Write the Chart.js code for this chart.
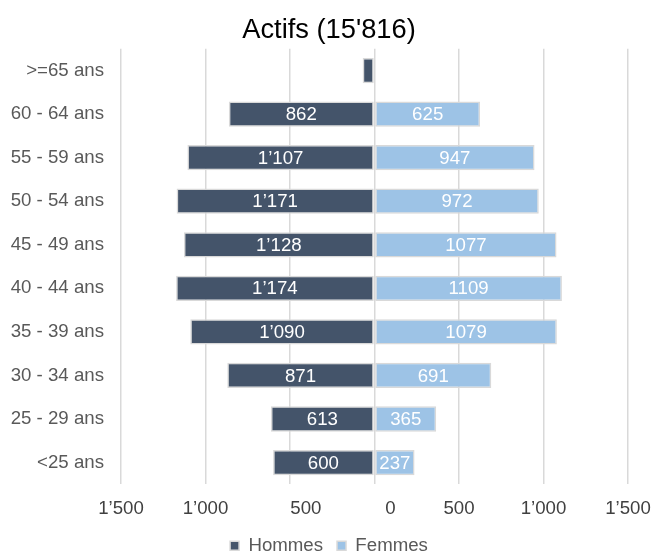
<!DOCTYPE html>
<html><head><meta charset="utf-8">
<script src="https://cdn.jsdelivr.net/npm/chart.js@4"></script>
<style>html,body{margin:0;padding:0;background:#fff}#wrap{width:658px;height:555px}</style>
</head><body><div id="wrap"><canvas id="c" width="658" height="555"></canvas></div>
<script>
const categories = [">=65 ans","60 - 64 ans","55 - 59 ans","50 - 54 ans","45 - 49 ans","40 - 44 ans","35 - 39 ans","30 - 34 ans","25 - 29 ans","<25 ans"];
const hommes = [70, 862, 1107, 1171, 1128, 1174, 1090, 871, 613, 600];
const femmes = [5, 625, 947, 972, 1077, 1109, 1079, 691, 365, 237];
const tickValues = [-1500, -1000, -500, 0, 500, 1000, 1500];
const tickLabels = ["1’500", "1’000", "500", "0", "500", "1’000", "1’500"];
const chartTitle = "Actifs (15'816)";

const FAMILY = '"Liberation Sans", Arial, sans-serif';
Chart.defaults.font.family = FAMILY;
const labelShift = [0, 0, 94, 94, 0, 0, 0];

function fmt(v){ return String(v).replace(/\B(?=(\d{3})+(?!\d))/g, '’'); }

const valueLabels = {
  id: 'valueLabels',
  afterDatasetsDraw(chart){
    const ctx = chart.ctx;
    ctx.save();
    ctx.font = '18.67px ' + FAMILY;
    ctx.fillStyle = '#ffffff';
    ctx.textAlign = 'center';
    ctx.textBaseline = 'middle';
    chart.data.datasets.forEach((ds, di) => {
      const meta = chart.getDatasetMeta(di);
      meta.data.forEach((bar, i) => {
        const raw = di === 0 ? hommes[i] : femmes[i];
        const txt = di === 0 ? fmt(raw) : String(raw);
        const w = Math.abs(bar.x - bar.base);
        if (ctx.measureText(txt).width > w) return;
        ctx.fillText(txt, (bar.x + bar.base) / 2, bar.y + 1);
      });
    });
    ctx.restore();
  }
};

new Chart(document.getElementById('c'), {
  type: 'bar',
  data: {
    labels: categories,
    datasets: [
      { label: 'Hommes', data: hommes.map(v => -v), backgroundColor: '#44546a', borderColor: '#d9d9d9', borderWidth: 1.5, borderSkipped: false, barPercentage: 0.58, categoryPercentage: 1 },
      { label: 'Femmes', data: femmes, backgroundColor: '#9dc3e6', borderColor: '#d9d9d9', borderWidth: 1.5, borderSkipped: false, barPercentage: 0.58, categoryPercentage: 1 }
    ]
  },
  options: {
    indexAxis: 'y',
    responsive: false,
    animation: false,
    layout: { padding: { left: 0, right: 0, top: 0, bottom: -10 } },
    plugins: {
      title: { display: true, text: chartTitle, color: '#000000', font: { size: 27.3, weight: 'normal' }, padding: { top: 14, bottom: 2 } },
      legend: { position: 'bottom', labels: { boxWidth: 9, boxHeight: 9, color: '#595959', font: { size: 18.67 }, padding: 14 } },
      tooltip: { enabled: false }
    },
    scales: {
      x: {
        stacked: true, min: -1500, max: 1500,
        ticks: { display: false, stepSize: 500 },
        grid: { color: '#d9d9d9', lineWidth: 1.5, drawTicks: false },
        border: { display: false }
      },
      x2: {
        type: 'linear', position: 'bottom', min: -1500, max: 1500,
        grid: { display: false, drawTicks: false },
        border: { display: false },
        afterBuildTicks(s){ s.ticks = tickValues.map((v, i) => ({ value: v + labelShift[i] })); },
        afterFit(s){ s.height = 38; s.paddingLeft = 0; s.paddingRight = 30; },
        ticks: { autoSkip: false, maxRotation: 0, color: '#404040', font: { size: 18.67 }, padding: 13, callback: (v, i) => tickLabels[i] }
      },
      y: {
        stacked: true,
        grid: { display: false, drawTicks: false },
        border: { display: false },
        ticks: { color: '#595959', font: { size: 18.67 }, padding: 17 },
        afterFit(s){ s.width = 121; }
      }
    }
  },
  plugins: [valueLabels]
});
</script>
</body></html>
